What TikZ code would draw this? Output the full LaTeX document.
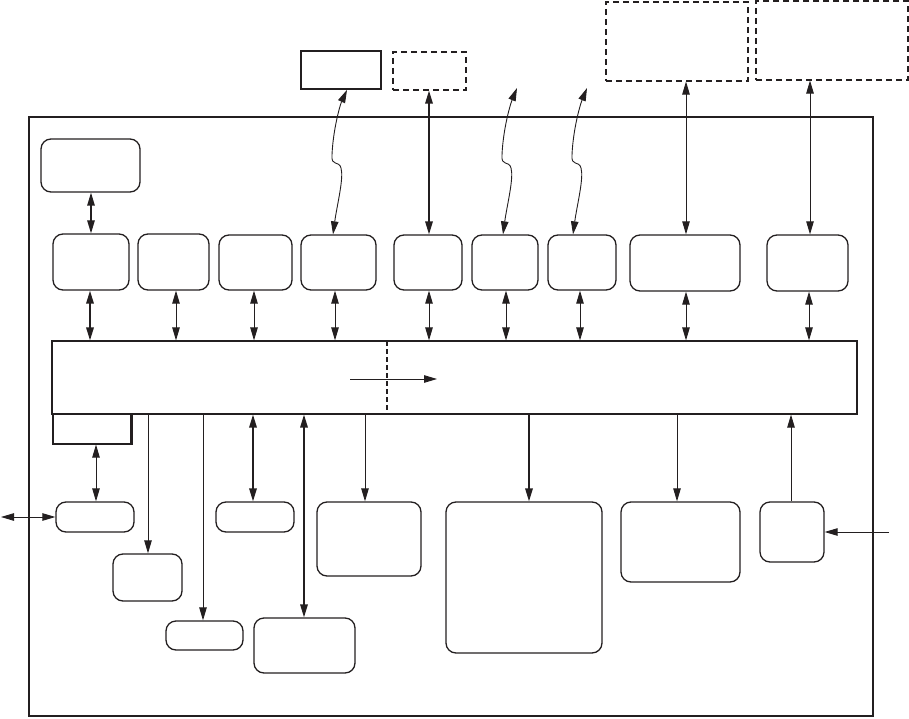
\documentclass[tikz,border=0pt]{standalone}
\usetikzlibrary{arrows.meta,fit}
\definecolor{ink}{HTML}{231F20}
\tikzset{
  rbox/.style={draw=ink,line width=1.3pt,rounded corners=10pt,inner sep=0pt},
  sbox/.style={draw=ink,line width=1.2pt,inner sep=0pt},
  dbox/.style={draw=ink,line width=1.1pt,dash pattern=on 6pt off 4pt,inner sep=0pt},
  one/.style={draw=ink,line width=0.9pt,-{Triangle[length=13pt,width=7.5pt]}},
  two/.style={draw=ink,line width=0.9pt,{Triangle[length=13pt,width=7.5pt]}-{Triangle[length=13pt,width=7.5pt]}},
  onebold/.style={draw=ink,line width=1.7pt,-{Triangle[length=13pt,width=7.5pt]}},
  twobold/.style={draw=ink,line width=1.7pt,{Triangle[length=13pt,width=7.5pt]}-{Triangle[length=13pt,width=7.5pt]}},
}
\begin{document}
\begin{tikzpicture}[x=1pt,y=-1pt]
\useasboundingbox (0,0) rectangle (909,719);
% outer frame
\node[draw=ink,line width=2.6pt,inner sep=0pt,fit={(29,117) (873,716)}] (frame) {};
% top external boxes
\node[draw=ink,line width=1.8pt,inner sep=0pt,fit={(301,51) (381,89)}] (ts) {};
\node[dbox,line width=1.3pt,fit={(393,52) (466,90)}] (td) {};
\node[dbox,fit={(606,2) (748,81)}] (tdA) {};
\node[dbox,fit={(756,1) (908,80)}] (tdB) {};
\coordinate (free1) at (517,88);
\coordinate (free2) at (587,88);
% top-left box
\node[rbox,fit={(41,139) (140,192)}] (tl) {};
% row of boxes
\node[rbox,fit={(53,234) (129,290)}] (r1) {};
\node[rbox,fit={(138,234) (209,290)}] (r2) {};
\node[rbox,fit={(219,235) (292,290)}] (r3) {};
\node[rbox,fit={(301,235) (376,290)}] (r4) {};
\node[rbox,fit={(394,235) (462,290)}] (r5) {};
\node[rbox,fit={(472,235) (538,290)}] (r6) {};
\node[rbox,fit={(548,235) (616,290)}] (r7) {};
\node[rbox,fit={(630,235) (740,291)}] (r8) {};
\node[rbox,fit={(767,235) (848,291)}] (r9) {};
% bus
\node[sbox,fit={(52,341) (857,414)}] (bus) {};
\node[sbox,fit={(53,414) (131,444)}] (sub) {};
\draw[ink,line width=1.8pt] (sub.north east) -- (sub.south east);
\draw[ink,line width=2pt,dash pattern=on 5pt off 3pt] (387,341) -- (387,414);
\coordinate (ba) at (350,379);
\coordinate (bb) at (437,379);
\draw[one] (ba) -- (bb);
% bottom boxes
\node[rbox,fit={(56,502) (134,532)}] (b1) {};
\node[rbox,fit={(113,554) (182,601)}] (b2) {};
\node[rbox,fit={(166,621) (243,650)}] (b3) {};
\node[rbox,fit={(216,502) (294,532)}] (b4) {};
\node[rbox,fit={(254,618) (355,673)}] (b5) {};
\node[rbox,fit={(317,502) (421,576)}] (b6) {};
\node[rbox,fit={(446,502) (602,653)}] (b7) {};
\node[rbox,fit={(621,502) (740,582)}] (b8) {};
\node[rbox,fit={(760,502) (824,562)}] (b9) {};
\coordinate (lext) at (1,517);
\coordinate (rext) at (889,532);
% top connections
\draw[two,line width=1.3pt] (tl.south -| 91,0) -- (r1.north -| 91,0);
\draw[twobold] (r5.north -| 429,0) -- (td.south -| 429,0);
\draw[two] (r8.north -| 686,0) -- (tdA.south -| 686,0);
\draw[two] (r9.north -| 810,0) -- (tdB.south -| 810,0);
\draw[two] (r4.north -| 333,0) .. controls (337,205) and (344,178) .. (341,168)
  .. controls (339,160) and (331,167) .. (332,155)
  .. controls (333,130) and (340,105) .. (ts.south -| 347,0);
\draw[two] (r6.north -| 503,0) .. controls (507,205) and (514,178) .. (511,168)
  .. controls (509,160) and (501,167) .. (502,155)
  .. controls (503,130) and (510,105) .. (free1);
\draw[two] (r7.north -| 573,0) .. controls (577,205) and (584,178) .. (581,168)
  .. controls (579,160) and (571,167) .. (572,155)
  .. controls (573,130) and (580,105) .. (free2);
% row to bus
\draw[twobold] (r1.south -| 90,0) -- (bus.north -| 90,0);
\draw[two] (r2.south -| 176,0) -- (bus.north -| 176,0);
\draw[two] (r3.south -| 254,0) -- (bus.north -| 254,0);
\draw[two] (r4.south -| 335,0) -- (bus.north -| 335,0);
\draw[two] (r5.south -| 429,0) -- (bus.north -| 429,0);
\draw[two] (r6.south -| 506,0) -- (bus.north -| 506,0);
\draw[two] (r7.south -| 580,0) -- (bus.north -| 580,0);
\draw[two] (r8.south -| 686,0) -- (bus.north -| 686,0);
\draw[two] (r9.south -| 809,0) -- (bus.north -| 809,0);
% bus to bottom
\draw[two] (sub.south -| 96,0) -- (b1.north -| 96,0);
\draw[two] (lext) -- (b1.west |- lext);
\draw[one] (bus.south -| 148,0) -- (b2.north -| 148,0);
\draw[one] (bus.south -| 203,0) -- (b3.north -| 203,0);
\draw[twobold] (bus.south -| 253,0) -- (b4.north -| 253,0);
\draw[twobold] (bus.south -| 304,0) -- (b5.north -| 304,0);
\draw[one] (bus.south -| 365,0) -- (b6.north -| 365,0);
\draw[onebold] (bus.south -| 529,0) -- (b7.north -| 529,0);
\draw[one] (bus.south -| 677,0) -- (b8.north -| 677,0);
\draw[one] (b9.north -| 791,0) -- (bus.south -| 791,0);
\draw[one] (rext) -- (b9.east |- rext);
\end{tikzpicture}
\end{document}
